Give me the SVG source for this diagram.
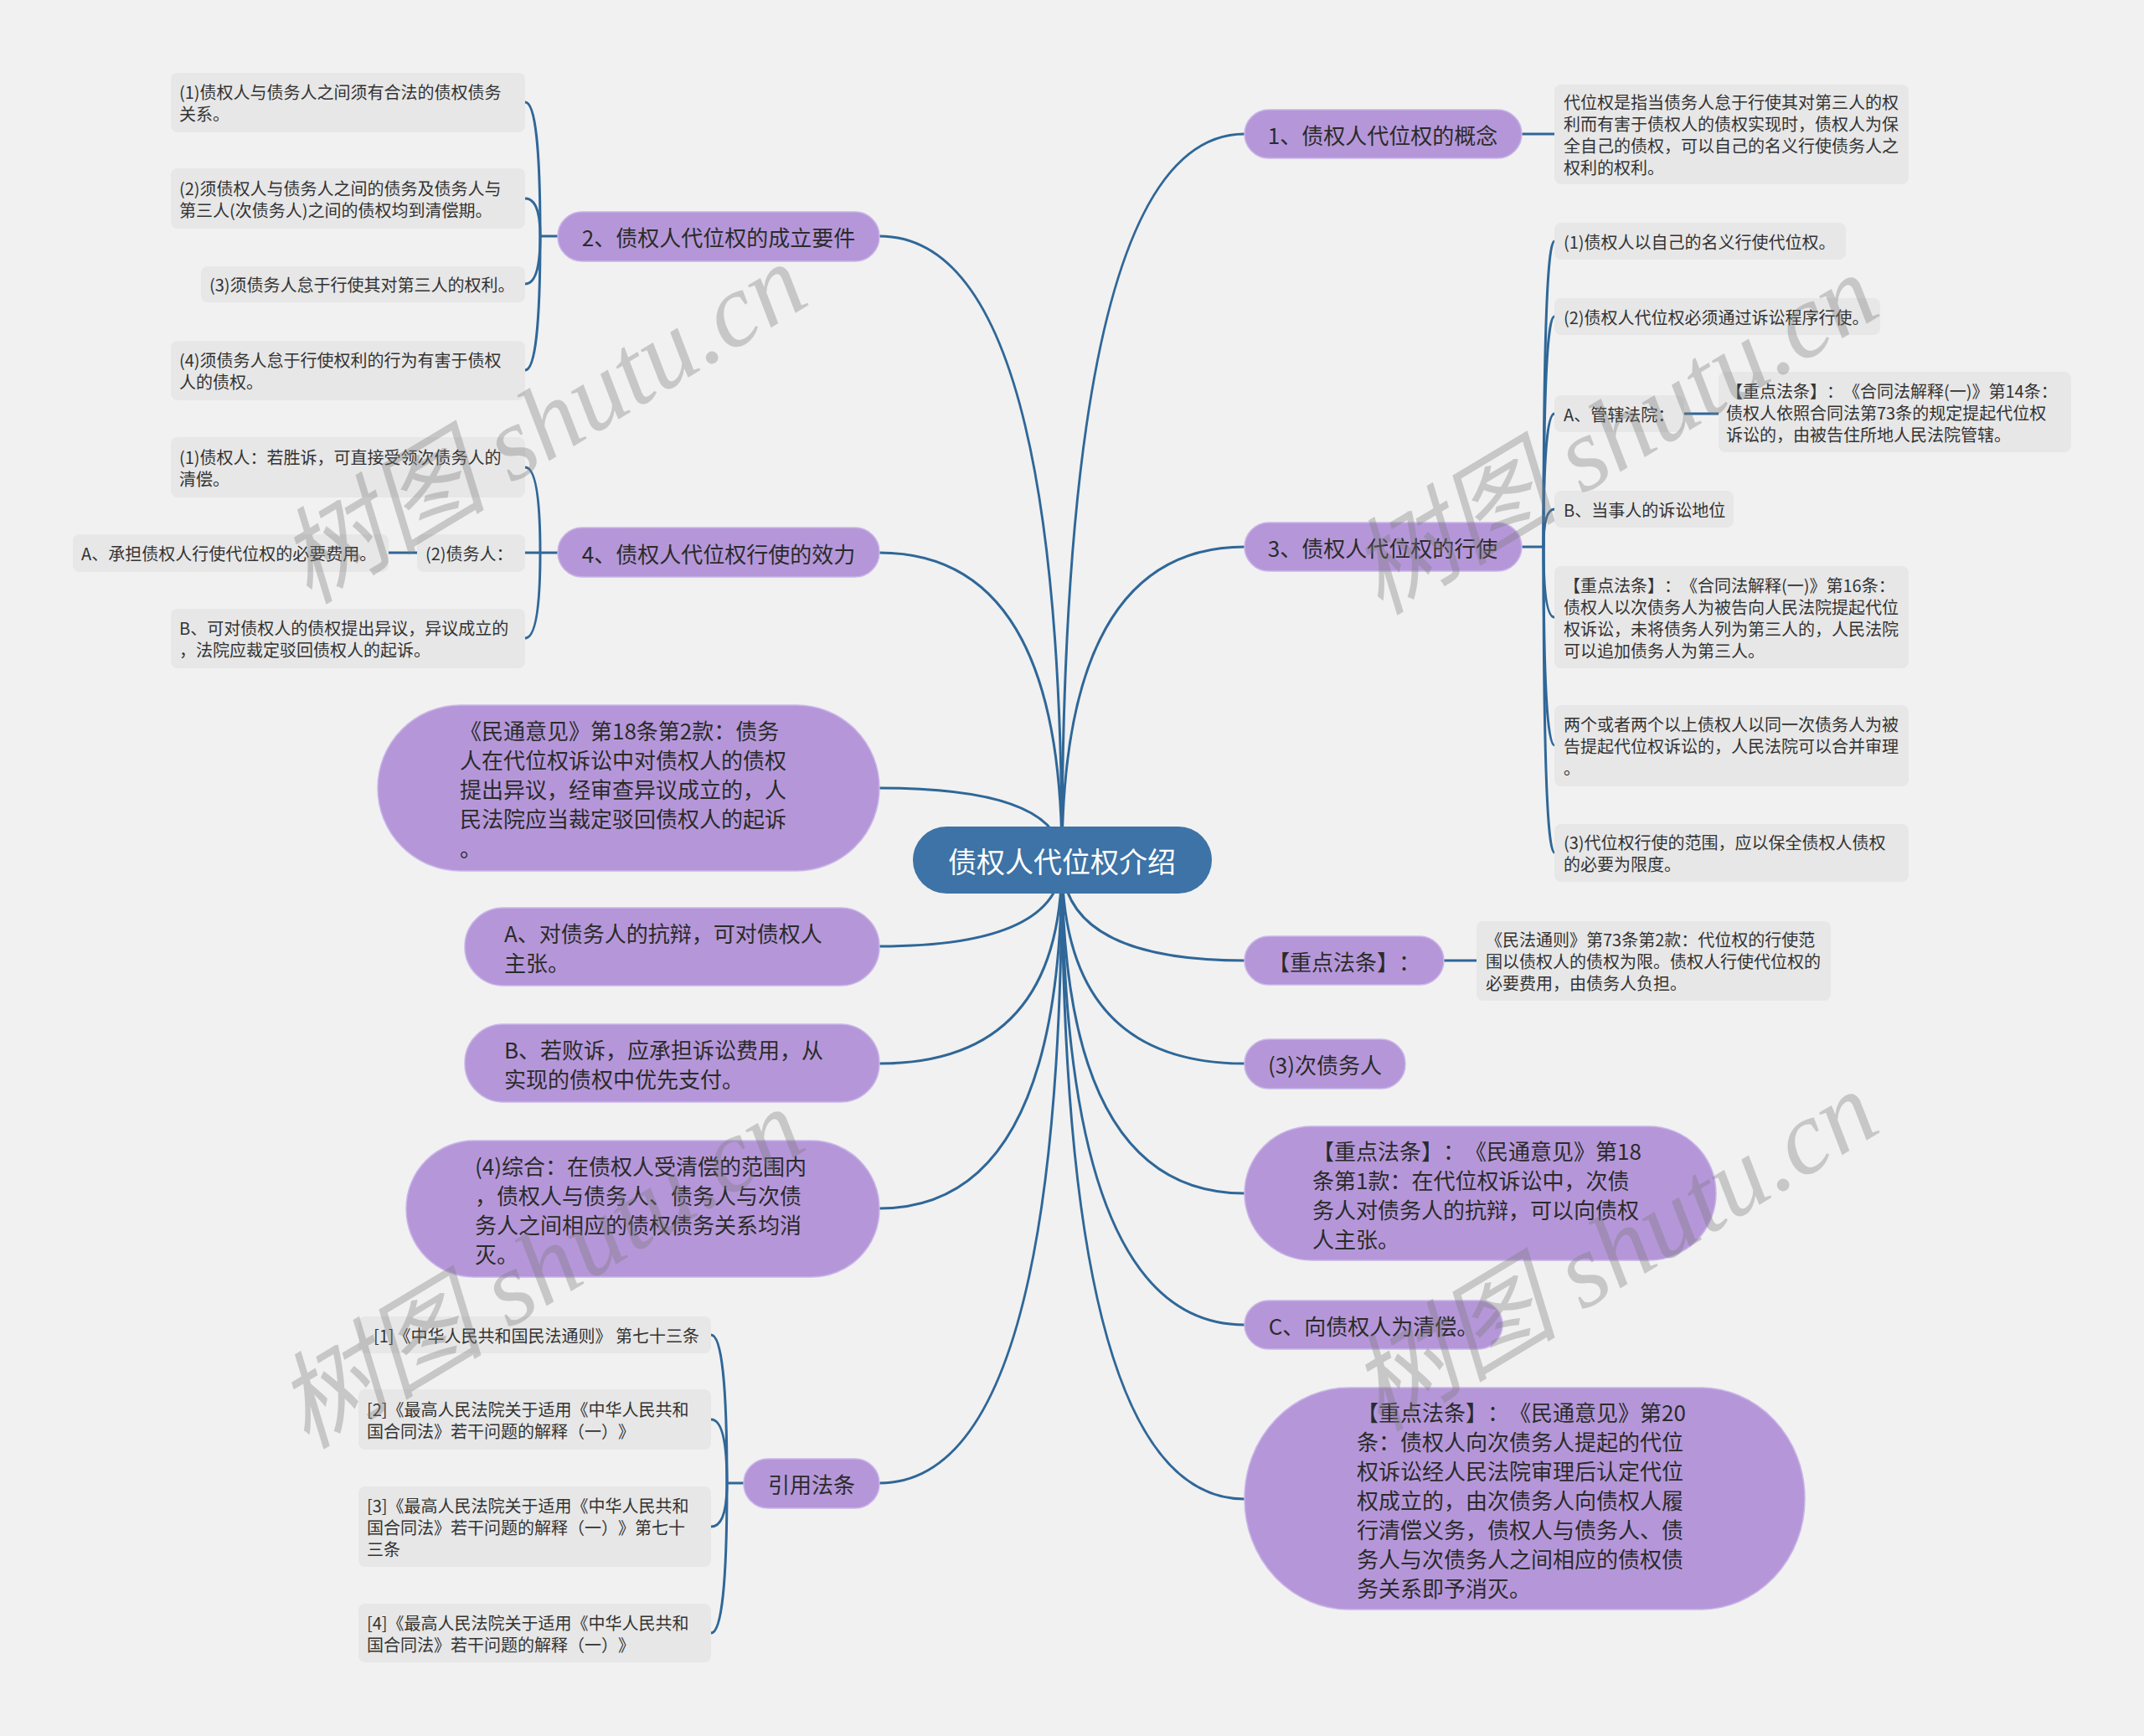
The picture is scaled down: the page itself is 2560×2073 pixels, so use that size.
<svg xmlns="http://www.w3.org/2000/svg" width="2560" height="2073" viewBox="0 0 2560 2073">
<style>
.bg{fill:#f1f1f1}
.g{fill:#e7e7e7}
text{text-spacing-trim:space-all}
.gt{font-family:"Noto Sans CJK SC","Microsoft YaHei",sans-serif;font-size:20px;fill:#333;dominant-baseline:central}
.p{fill:#b597d9;stroke:#c9b5e8;stroke-width:1.5}
.pt{font-family:"Noto Sans CJK SC","Microsoft YaHei",sans-serif;font-size:26px;fill:#2b2b2b;dominant-baseline:central}
.ct{font-family:"Noto Sans CJK SC","Microsoft YaHei",sans-serif;font-size:34px;fill:#ffffff;dominant-baseline:central}
.mid{text-anchor:middle}
.c{fill:none;stroke:#2f6798;stroke-width:3}
.wm{font-family:"Liberation Serif","Noto Sans CJK SC",serif;font-style:italic;font-size:125px;fill:#7a7a7a;opacity:0.35;text-anchor:middle;dominant-baseline:central}
</style>
<rect class="bg" x="0" y="0" width="2560" height="2073"/>

<g id="connectors">
  <path class="c" d="M1268,1027 Q1268,160 1486,160"/>
  <path class="c" d="M1268,1027 Q1268,653 1486,653"/>
  <path class="c" d="M1268,1027 Q1268,1147 1486,1147"/>
  <path class="c" d="M1268,1027 Q1268,1270 1486,1270"/>
  <path class="c" d="M1268,1027 Q1268,1425 1486,1425"/>
  <path class="c" d="M1268,1027 Q1268,1582 1486,1582"/>
  <path class="c" d="M1268,1027 Q1268,1790 1486,1790"/>
  <path class="c" d="M1268,1027 Q1268,282 1050,282"/>
  <path class="c" d="M1268,1027 Q1268,660 1050,660"/>
  <path class="c" d="M1268,1027 Q1268,941 1050,941"/>
  <path class="c" d="M1268,1027 Q1268,1130 1050,1130"/>
  <path class="c" d="M1268,1027 Q1268,1270 1050,1270"/>
  <path class="c" d="M1268,1027 Q1268,1443 1050,1443"/>
  <path class="c" d="M1268,1027 Q1268,1771 1050,1771"/>
  <path class="c" d="M1817,160 H1856"/>
  <path class="c" d="M1817,653 H1843"/>
  <path class="c" d="M1843,653 Q1843,288 1856,288"/>
  <path class="c" d="M1843,653 Q1843,378 1856,378"/>
  <path class="c" d="M1843,653 Q1843,494 1856,494"/>
  <path class="c" d="M1843,653 Q1843,608 1856,608"/>
  <path class="c" d="M1843,653 Q1843,737 1856,737"/>
  <path class="c" d="M1843,653 Q1843,890 1856,890"/>
  <path class="c" d="M1843,653 Q1843,1018 1856,1018"/>
  <path class="c" d="M2011,494 H2052"/>
  <path class="c" d="M1724,1147 H1763"/>
  <path class="c" d="M666,282 H645"/>
  <path class="c" d="M645,282 Q645,122 627,122"/>
  <path class="c" d="M645,282 Q645,237 627,237"/>
  <path class="c" d="M645,282 Q645,339 627,339"/>
  <path class="c" d="M645,282 Q645,442 627,442"/>
  <path class="c" d="M666,660 H645"/>
  <path class="c" d="M645,660 Q645,558 627,558"/>
  <path class="c" d="M645,660 H627"/>
  <path class="c" d="M645,660 Q645,762 627,762"/>
  <path class="c" d="M498,660 H464"/>
  <path class="c" d="M888,1771 H868"/>
  <path class="c" d="M868,1771 Q868,1594 849,1594"/>
  <path class="c" d="M868,1771 Q868,1695 849,1695"/>
  <path class="c" d="M868,1771 Q868,1823 849,1823"/>
  <path class="c" d="M868,1771 Q868,1950 849,1950"/>
</g>

<g id="center">
  <rect x="1090" y="987" width="357" height="80" rx="40" fill="#3d73a6"/>
  <text class="ct mid" x="1268" y="1027">债权人代位权介绍</text>
</g>

<g id="n1">
  <rect class="p" x="1486" y="131" width="331" height="58" rx="29"/>
  <text class="pt mid" x="1651" y="160">1、债权人代位权的概念</text>
</g>
<g id="n1-desc">
  <rect class="g" x="1856" y="101" width="423" height="119" rx="8"/>
  <text class="gt" x="1867" y="121.5">代位权是指当债务人怠于行使其对第三人的权</text>
  <text class="gt" x="1867" y="147.5">利而有害于债权人的债权实现时，债权人为保</text>
  <text class="gt" x="1867" y="173.5">全自己的债权，可以自己的名义行使债务人之</text>
  <text class="gt" x="1867" y="199.5">权利的权利。</text>
</g>

<g id="n3">
  <rect class="p" x="1486" y="624" width="331" height="58" rx="29"/>
  <text class="pt mid" x="1651" y="653">3、债权人代位权的行使</text>
</g>
<g id="n3-c1">
  <rect class="g" x="1856" y="266" width="348" height="44" rx="8"/>
  <text class="gt" x="1867" y="288">(1)债权人以自己的名义行使代位权。</text>
</g>
<g id="n3-c2">
  <rect class="g" x="1856" y="356" width="389" height="44" rx="8"/>
  <text class="gt" x="1867" y="378">(2)债权人代位权必须通过诉讼程序行使。</text>
</g>
<g id="n3-ca">
  <rect class="g" x="1856" y="472" width="155" height="44" rx="8"/>
  <text class="gt" x="1867" y="494">A、管辖法院：</text>
</g>
<g id="n3-ca1">
  <rect class="g" x="2052" y="444" width="421" height="96" rx="8"/>
  <text class="gt" x="2061" y="466">【重点法条】：《合同法解释(一)》第14条：</text>
  <text class="gt" x="2061" y="492">债权人依照合同法第73条的规定提起代位权</text>
  <text class="gt" x="2061" y="518">诉讼的，由被告住所地人民法院管辖。</text>
</g>
<g id="n3-cb">
  <rect class="g" x="1856" y="586" width="214" height="44" rx="8"/>
  <text class="gt" x="1867" y="608">B、当事人的诉讼地位</text>
</g>
<g id="n3-c16">
  <rect class="g" x="1856" y="676" width="423" height="122" rx="8"/>
  <text class="gt" x="1867" y="698">【重点法条】：《合同法解释(一)》第16条：</text>
  <text class="gt" x="1867" y="724">债权人以次债务人为被告向人民法院提起代位</text>
  <text class="gt" x="1867" y="750">权诉讼，未将债务人列为第三人的，人民法院</text>
  <text class="gt" x="1867" y="776">可以追加债务人为第三人。</text>
</g>
<g id="n3-merge">
  <rect class="g" x="1856" y="842" width="423" height="97" rx="8"/>
  <text class="gt" x="1867" y="864.5">两个或者两个以上债权人以同一次债务人为被</text>
  <text class="gt" x="1867" y="890.5">告提起代位权诉讼的，人民法院可以合并审理</text>
  <text class="gt" x="1867" y="916.5">。</text>
</g>
<g id="n3-c3">
  <rect class="g" x="1856" y="984" width="423" height="69" rx="8"/>
  <text class="gt" x="1867" y="1005.5">(3)代位权行使的范围，应以保全债权人债权</text>
  <text class="gt" x="1867" y="1031.5">的必要为限度。</text>
</g>

<g id="pz">
  <rect class="p" x="1486" y="1118" width="238" height="58" rx="29"/>
  <text class="pt mid" x="1605" y="1147">【重点法条】：</text>
</g>
<g id="pz-desc">
  <rect class="g" x="1763" y="1100" width="423" height="95" rx="8"/>
  <text class="gt" x="1774" y="1121.5">《民法通则》第73条第2款：代位权的行使范</text>
  <text class="gt" x="1774" y="1147.5">围以债权人的债权为限。债权人行使代位权的</text>
  <text class="gt" x="1774" y="1173.5">必要费用，由债务人负担。</text>
</g>

<g id="p-ci">
  <rect class="p" x="1486" y="1241" width="192" height="59" rx="29"/>
  <text class="pt mid" x="1582" y="1270">(3)次债务人</text>
</g>

<g id="p18-1">
  <rect class="p" x="1486" y="1345" width="563" height="160" rx="80"/>
  <text class="pt" x="1567" y="1373">【重点法条】：《民通意见》第18</text>
  <text class="pt" x="1567" y="1408">条第1款：在代位权诉讼中，次债</text>
  <text class="pt" x="1567" y="1443">务人对债务人的抗辩，可以向债权</text>
  <text class="pt" x="1567" y="1478">人主张。</text>
</g>

<g id="pc">
  <rect class="p" x="1486" y="1553" width="308" height="58" rx="29"/>
  <text class="pt mid" x="1640" y="1582">C、向债权人为清偿。</text>
</g>

<g id="p20">
  <rect class="p" x="1486" y="1657" width="669" height="265" rx="125" ry="132"/>
  <text class="pt" x="1620" y="1685">【重点法条】：《民通意见》第20</text>
  <text class="pt" x="1620" y="1720">条：债权人向次债务人提起的代位</text>
  <text class="pt" x="1620" y="1755">权诉讼经人民法院审理后认定代位</text>
  <text class="pt" x="1620" y="1790">权成立的，由次债务人向债权人履</text>
  <text class="pt" x="1620" y="1825">行清偿义务，债权人与债务人、债</text>
  <text class="pt" x="1620" y="1860">务人与次债务人之间相应的债权债</text>
  <text class="pt" x="1620" y="1895">务关系即予消灭。</text>
</g>

<g id="n2">
  <rect class="p" x="666" y="253" width="384" height="59" rx="29"/>
  <text class="pt mid" x="858" y="282">2、债权人代位权的成立要件</text>
</g>
<g id="n2-c1">
  <rect class="g" x="204" y="87" width="423" height="71" rx="8"/>
  <text class="gt" x="214" y="109.5">(1)债权人与债务人之间须有合法的债权债务</text>
  <text class="gt" x="214" y="135.5">关系。</text>
</g>
<g id="n2-c2">
  <rect class="g" x="204" y="201" width="423" height="72" rx="8"/>
  <text class="gt" x="214" y="224">(2)须债权人与债务人之间的债务及债务人与</text>
  <text class="gt" x="214" y="250">第三人(次债务人)之间的债权均到清偿期。</text>
</g>
<g id="n2-c3">
  <rect class="g" x="240" y="318" width="387" height="43" rx="8"/>
  <text class="gt" x="250" y="339.5">(3)须债务人怠于行使其对第三人的权利。</text>
</g>
<g id="n2-c4">
  <rect class="g" x="204" y="407" width="423" height="71" rx="8"/>
  <text class="gt" x="214" y="429.5">(4)须债务人怠于行使权利的行为有害于债权</text>
  <text class="gt" x="214" y="455.5">人的债权。</text>
</g>

<g id="n4">
  <rect class="p" x="666" y="630" width="384" height="59" rx="29"/>
  <text class="pt mid" x="858" y="660">4、债权人代位权行使的效力</text>
</g>
<g id="n4-c1">
  <rect class="g" x="204" y="522" width="423" height="72" rx="8"/>
  <text class="gt" x="214" y="545">(1)债权人：若胜诉，可直接受领次债务人的</text>
  <text class="gt" x="214" y="571">清偿。</text>
</g>
<g id="n4-c2">
  <rect class="g" x="498" y="638" width="129" height="45" rx="8"/>
  <text class="gt" x="508" y="660.5">(2)债务人：</text>
</g>
<g id="n4-c2a">
  <rect class="g" x="87" y="638" width="377" height="45" rx="8"/>
  <text class="gt" x="97" y="660.5">A、承担债权人行使代位权的必要费用。</text>
</g>
<g id="n4-c3">
  <rect class="g" x="204" y="727" width="423" height="71" rx="8"/>
  <text class="gt" x="214" y="749.5">B、可对债权人的债权提出异议，异议成立的</text>
  <text class="gt" x="214" y="775.5">，法院应裁定驳回债权人的起诉。</text>
</g>

<g id="p18-2">
  <rect class="p" x="451" y="842" width="599" height="198" rx="99"/>
  <text class="pt" x="549" y="871">《民通意见》第18条第2款：债务</text>
  <text class="pt" x="549" y="906">人在代位权诉讼中对债权人的债权</text>
  <text class="pt" x="549" y="941">提出异议，经审查异议成立的，人</text>
  <text class="pt" x="549" y="976">民法院应当裁定驳回债权人的起诉</text>
  <text class="pt" x="549" y="1011">。</text>
</g>
<g id="pa">
  <rect class="p" x="555" y="1084" width="495" height="93" rx="46"/>
  <text class="pt" x="602" y="1113">A、对债务人的抗辩，可对债权人</text>
  <text class="pt" x="602" y="1148">主张。</text>
</g>
<g id="pb">
  <rect class="p" x="555" y="1223" width="495" height="93" rx="46"/>
  <text class="pt" x="602" y="1252">B、若败诉，应承担诉讼费用，从</text>
  <text class="pt" x="602" y="1287">实现的债权中优先支付。</text>
</g>
<g id="p4">
  <rect class="p" x="485" y="1362" width="565" height="163" rx="81"/>
  <text class="pt" x="567" y="1391">(4)综合：在债权人受清偿的范围内</text>
  <text class="pt" x="567" y="1426">，债权人与债务人、债务人与次债</text>
  <text class="pt" x="567" y="1461">务人之间相应的债权债务关系均消</text>
  <text class="pt" x="567" y="1496">灭。</text>
</g>

<g id="cite">
  <rect class="p" x="888" y="1742" width="162" height="59" rx="29"/>
  <text class="pt mid" x="969" y="1771">引用法条</text>
</g>
<g id="cite-1">
  <rect class="g" x="428" y="1572" width="421" height="44" rx="8"/>
  <text class="gt" x="446" y="1594">[1]《中华人民共和国民法通则》 第七十三条</text>
</g>
<g id="cite-2">
  <rect class="g" x="428" y="1659" width="421" height="72" rx="8"/>
  <text class="gt" x="438" y="1682">[2]《最高人民法院关于适用《中华人民共和</text>
  <text class="gt" x="438" y="1708">国合同法》若干问题的解释（一）》</text>
</g>
<g id="cite-3">
  <rect class="g" x="428" y="1775" width="421" height="96" rx="8"/>
  <text class="gt" x="438" y="1797">[3]《最高人民法院关于适用《中华人民共和</text>
  <text class="gt" x="438" y="1823">国合同法》若干问题的解释（一）》第七十</text>
  <text class="gt" x="438" y="1849">三条</text>
</g>
<g id="cite-4">
  <rect class="g" x="428" y="1915" width="421" height="70" rx="8"/>
  <text class="gt" x="438" y="1937">[4]《最高人民法院关于适用《中华人民共和</text>
  <text class="gt" x="438" y="1963">国合同法》若干问题的解释（一）》</text>
</g>

<g id="watermarks">
  <text class="wm" transform="translate(648,506) rotate(-31)">树图 shutu.cn</text>
  <text class="wm" transform="translate(1927,519) rotate(-31)">树图 shutu.cn</text>
  <text class="wm" transform="translate(645,1515) rotate(-31)">树图 shutu.cn</text>
  <text class="wm" transform="translate(1927,1494) rotate(-31)">树图 shutu.cn</text>
</g>
</svg>
